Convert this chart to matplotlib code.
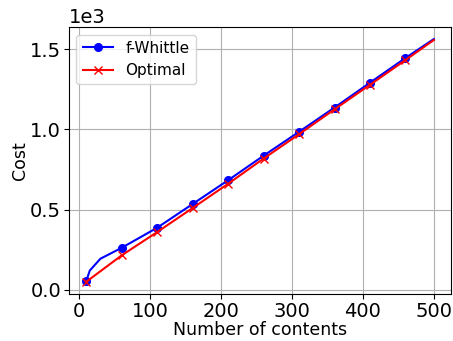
import numpy as np
import matplotlib.pyplot as plt

# Cost vs number of contents
x_whittle = [10, 15, 30, 60, 110, 160, 210, 260, 310, 360, 410, 460, 500]
cost_whittle = [55, 120, 194, 262, 387, 535, 683, 836, 985, 1136, 1291, 1445, 1563]
x_optimal = [10, 60, 110, 160, 210, 260, 310, 360, 410, 460, 500]
cost_optimal = [50, 215, 360, 510, 661, 818, 970, 1125, 1278, 1432, 1557]

fig = plt.figure(figsize=(4.53, 3.41), dpi=100)
ax = fig.add_subplot(111)
fig.subplots_adjust(left=0.152, right=0.996, top=0.921, bottom=0.138)

ax.plot(x_whittle, cost_whittle, 'b-', marker='o', markersize=5.5,
        markevery=[0] + list(range(3, len(x_whittle) - 1)), label='f-Whittle')
ax.plot(x_optimal, cost_optimal, 'r-', marker='x', markersize=5.5,
        markevery=list(range(len(x_optimal) - 1)), label='Optimal')

ax.set_xlabel('Number of contents', fontsize=12.5, labelpad=0)
ax.set_ylabel('Cost', fontsize=12.5, labelpad=1)
ax.ticklabel_format(axis='y', style='sci', scilimits=(3, 3))
ax.tick_params(labelsize=14, pad=2)
ax.yaxis.get_offset_text().set_fontsize(14)
ax.set_xticks([0, 100, 200, 300, 400, 500])
ax.set_yticks([0, 500, 1000, 1500])
ax.grid(True)
ax.legend(loc='upper left', fontsize=11)

plt.savefig('out.png', dpi=100)
